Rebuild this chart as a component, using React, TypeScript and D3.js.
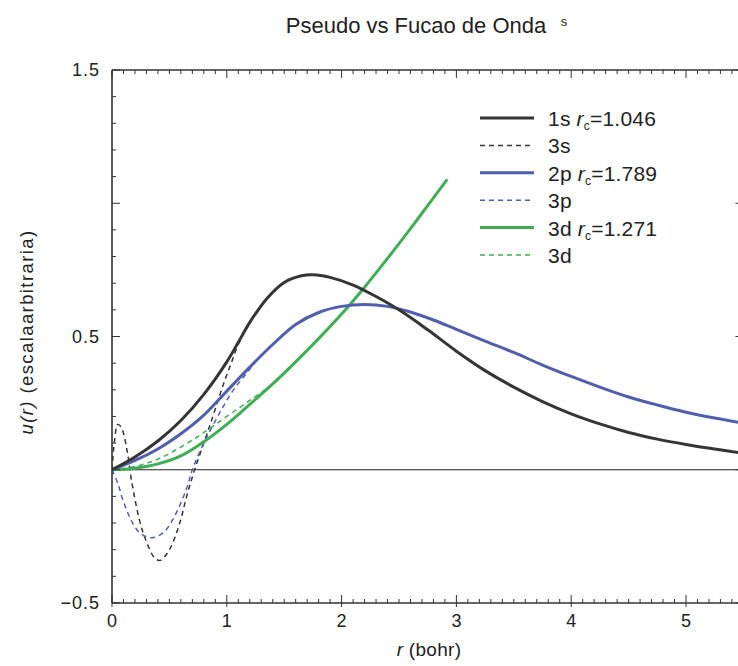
import React from "react";
import * as d3 from "d3";

type P = [number, number];

const title = "Pseudo vs Fucao de Onda";
const xTickLabels = [0, 1, 2, 3, 4, 5];
const yTickLabels = [-0.5, 0.5, 1.5];

const ps1s: P[] = [[0,0],[0.2,0.048],[0.4,0.108],[0.6,0.185],[0.8,0.283],[1.0,0.405],[1.1,0.478],[1.2,0.553],[1.35,0.643],[1.5,0.703],[1.65,0.728],[1.75,0.732],[1.9,0.722],[2.1,0.693],[2.3,0.65],[2.5,0.60],[2.75,0.525],[3.0,0.445],[3.25,0.372],[3.5,0.31],[3.75,0.256],[4.0,0.21],[4.25,0.172],[4.5,0.14],[4.75,0.115],[5.0,0.095],[5.25,0.078],[5.5,0.062]];
const ae3s: P[] = [[0,0],[0.02,0.1],[0.05,0.17],[0.08,0.16],[0.13,0.075],[0.17,-0.04],[0.24,-0.19],[0.3,-0.27],[0.37,-0.33],[0.42,-0.34],[0.5,-0.30],[0.59,-0.2],[0.65,-0.1],[0.72,0],[0.85,0.163],[0.97,0.32],[1.03,0.39],[1.1,0.47],[1.2,0.553]];
const ps2p: P[] = [[0,0],[0.2,0.035],[0.4,0.078],[0.6,0.135],[0.8,0.205],[1.0,0.295],[1.2,0.385],[1.4,0.47],[1.6,0.545],[1.8,0.59],[2.0,0.613],[2.2,0.62],[2.4,0.613],[2.6,0.592],[2.8,0.562],[3.0,0.527],[3.25,0.483],[3.5,0.44],[3.75,0.393],[4.0,0.35],[4.25,0.31],[4.5,0.273],[4.75,0.243],[5.0,0.216],[5.25,0.194],[5.5,0.175]];
const ae3p: P[] = [[0,0],[0.05,-0.05],[0.1,-0.12],[0.18,-0.2],[0.25,-0.24],[0.35,-0.255],[0.45,-0.235],[0.55,-0.17],[0.65,-0.07],[0.7,0],[0.8,0.1],[0.94,0.215],[1.05,0.295],[1.15,0.35],[1.25,0.405]];
const ps3d: P[] = [[0,0],[0.2,0.006],[0.4,0.022],[0.6,0.052],[0.8,0.105],[1.0,0.17],[1.2,0.245],[1.4,0.322],[1.6,0.405],[1.8,0.492],[2.0,0.584],[2.2,0.685],[2.4,0.793],[2.6,0.905],[2.8,1.02],[2.92,1.09]];
const ae3d: P[] = [[0,0],[0.2,0.012],[0.4,0.04],[0.6,0.085],[0.8,0.14],[1.0,0.2],[1.2,0.26],[1.35,0.305]];

const legendLabels = ["1s", "3s", "2p", "3p", "3d", "3d"];
const legendRc = ["1.046", "", "1.789", "", "1.271", ""];

const BLACK = "#353535";
const BLUE = "#4f5fae";
const GREEN = "#3fae54";

export default function App() {
  const W = 738, H = 666;
  const x = d3.scaleLinear().domain([0, 5.5]).range([112, 112 + 5.5 * 114.8]);
  const y = d3.scaleLinear().domain([-0.5, 1.5]).range([603, 70]);
  const x0 = x(0), x1 = x(5.5), yTop = y(1.5), yBot = y(-0.5);
  const line = d3.line<P>().x(d => x(d[0])).y(d => y(d[1])).curve(d3.curveCatmullRom.alpha(0.5));

  const series = [
    { data: ps1s, color: BLACK, dash: null, w: 3 },
    { data: ae3s, color: BLACK, dash: "5,4", w: 1.5 },
    { data: ps2p, color: BLUE, dash: null, w: 3 },
    { data: ae3p, color: BLUE, dash: "5,4", w: 1.5 },
    { data: ps3d, color: GREEN, dash: null, w: 3 },
    { data: ae3d, color: GREEN, dash: "5,4", w: 1.5 },
  ];
  const drawOrder = [1, 3, 5, 4, 2, 0];

  const xMinor = d3.range(0, 56).map(i => i / 10);
  const yMinor = d3.range(0, 21).map(i => -0.5 + i / 10);
  const font = "'Liberation Sans', Arial, Helvetica, sans-serif";
  const axisCol = "#333";
  const legendY = d3.range(6).map(i => 118 + 27.4 * i);

  return (
    <svg width={W} height={H} style={{ position: "absolute", left: 0, top: 0, background: "#fff" }} fontFamily={font}>
      <defs>
        <clipPath id="plot">
          <rect x={x0} y={yTop} width={x1 - x0} height={yBot - yTop} />
        </clipPath>
      </defs>
      <text x={416} y={33} textAnchor="middle" fontSize={22} fill="#222">{title}</text>
      <text x={564} y={26} textAnchor="middle" fontSize={13} fill="#222">s</text>

      {/* zero line */}
      <line x1={x0} x2={x1} y1={y(0)} y2={y(0)} stroke="#222" strokeWidth={1.2} />

      <g clipPath="url(#plot)">
        {drawOrder.map(i => {
          const s = series[i];
          return (
            <path key={i} d={line(s.data) || ""} fill="none" stroke={s.color}
              strokeWidth={s.w} strokeDasharray={s.dash || undefined} strokeLinejoin="round" />
          );
        })}
      </g>

      {/* frame */}
      <line x1={x0} x2={x0} y1={yTop} y2={yBot} stroke={axisCol} strokeWidth={1.6} />
      <line x1={x0} x2={x1} y1={yBot} y2={yBot} stroke={axisCol} strokeWidth={1.6} />
      <line x1={x0} x2={x1} y1={yTop} y2={yTop} stroke={axisCol} strokeWidth={1.6} />
      <line x1={x1} x2={x1} y1={yTop} y2={yBot} stroke={axisCol} strokeWidth={1.6} />

      {xMinor.map((v, i) => {
        const major = i % 10 === 0;
        const len = major ? 8 : 4;
        return (
          <g key={"xt" + i}>
            <line x1={x(v)} x2={x(v)} y1={yBot} y2={yBot - len} stroke={axisCol} strokeWidth={1} />
            {major && <line x1={x(v)} x2={x(v)} y1={yBot} y2={yBot + 4} stroke={axisCol} strokeWidth={1} />}
            <line x1={x(v)} x2={x(v)} y1={yTop} y2={yTop + len} stroke={axisCol} strokeWidth={1} />
          </g>
        );
      })}
      {yMinor.map((v, i) => {
        const major = i % 5 === 0;
        const len = major ? 8 : 4;
        return (
          <g key={"yt" + i}>
            <line x1={x0} x2={x0 + len} y1={y(v)} y2={y(v)} stroke={axisCol} strokeWidth={1} />
            <line x1={x1} x2={x1 - len} y1={y(v)} y2={y(v)} stroke={axisCol} strokeWidth={1} />
          </g>
        );
      })}

      {xTickLabels.map(v => (
        <text key={"xl" + v} x={x(v)} y={627} textAnchor="middle" fontSize={18} fill="#222">{v}</text>
      ))}
      {yTickLabels.map(v => (
        <text key={"yl" + v} x={100} y={y(v) + 6} textAnchor="end" fontSize={18} letterSpacing={1} fill="#222">
          {v < 0 ? "\u2212" + Math.abs(v).toFixed(1) : v.toFixed(1)}
        </text>
      ))}

      <text x={429} y={656} textAnchor="middle" fontSize={19} letterSpacing={0.3} fill="#222">
        <tspan fontStyle="italic">r</tspan> (bohr)
      </text>
      <text transform={`translate(33, 332) rotate(-90)`} textAnchor="middle" fontSize={18.5} letterSpacing={1.4} fill="#222">
        <tspan fontStyle="italic">u(r)</tspan>  (escalaarbitraria)
      </text>

      {/* legend */}
      {series.map((s, i) => (
        <g key={"lg" + i}>
          <line x1={480} x2={534} y1={legendY[i]} y2={legendY[i]} stroke={s.color}
            strokeWidth={s.w} strokeDasharray={s.dash || undefined} />
          <text x={548} y={legendY[i] + 8} fontSize={21} letterSpacing={0.2} fill="#222">
            {legendLabels[i]}
            {legendRc[i] && (
              <>
                <tspan fontStyle="italic" dx={6}>r</tspan>
                <tspan fontSize={12} dy={4}>c</tspan>
                <tspan dy={-4}>={legendRc[i]}</tspan>
              </>
            )}
          </text>
        </g>
      ))}
    </svg>
  );
}
